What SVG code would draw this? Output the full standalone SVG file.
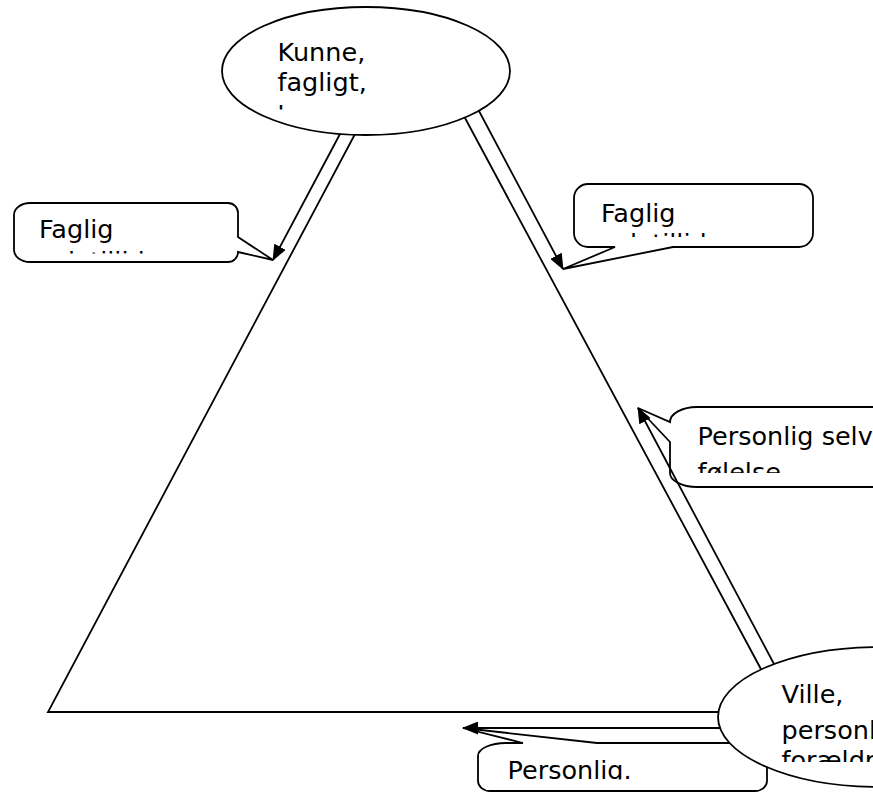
<svg xmlns="http://www.w3.org/2000/svg" width="873" height="793" viewBox="0 0 873 793">
<style>
.shape{fill:#fff;stroke:#000;stroke-width:1.8;stroke-linejoin:miter}
.line{fill:none;stroke:#000;stroke-width:1.8}
.txt{font-family:"DejaVu Sans","Verdana",sans-serif;font-size:25.5px;fill:#000}
</style>
<defs>
<marker id="arrow" markerUnits="userSpaceOnUse" viewBox="0 0 16 13" refX="15" refY="6.5" markerWidth="16" markerHeight="13" orient="auto">
<path d="M0,0 L16,6.5 L0,13 Z" fill="#000"/>
</marker>
<clipPath id="cTop"><rect x="270" y="30" width="200" height="79.5"/></clipPath>
<clipPath id="cLeft"><rect x="20" y="205" width="215" height="48.5"/></clipPath>
<clipPath id="cRight"><rect x="580" y="186" width="230" height="51"/></clipPath>
<clipPath id="cPS"><rect x="680" y="410" width="300" height="63"/></clipPath>
<clipPath id="cBot"><rect x="485" y="745" width="280" height="34.5"/></clipPath>
<clipPath id="cVille"><rect x="760" y="650" width="200" height="112"/></clipPath>
</defs>

<g id="triangle">
<polygon class="line" points="414,23 48,712 784,712"/>
</g>

<g id="callout-faglig-left">
<path class="shape" d="M30,203 H228 A10,10 0 0 1 238,213 V237 L273,260 L238,252 A10,10 0 0 1 228,262 H30 A16,12 0 0 1 14,250 V215 A16,12 0 0 1 30,203 Z"/>
<g clip-path="url(#cLeft)">
<text class="txt" x="39" y="238">Faglig</text>
<text class="txt" x="39" y="270">selvtillid</text>
</g>
</g>

<g id="callout-faglig-right">
<path class="shape" d="M588,184 H799 A14,14 0 0 1 813,198 V233 A14,14 0 0 1 799,247 H673 L563,269 L615,247 H588 A14,14 0 0 1 574,233 V198 A14,14 0 0 1 588,184 Z"/>
<g clip-path="url(#cRight)">
<text class="txt" x="601" y="222">Faglig</text>
<text class="txt" x="601" y="252">selvtillid</text>
</g>
</g>

<g id="callout-personlig-selv">
<path class="shape" d="M697,407 H900 V487 H697 A27,14 0 0 1 670,473 V442 L638,408 L670,422 A27,15 0 0 1 697,407 Z"/>
<g clip-path="url(#cPS)">
<text class="txt" x="697.5" y="445">Personlig selvværds-</text>
<text class="txt" x="697.5" y="481">følelse</text>
</g>
</g>

<g id="callout-personlig-bottom">
<path class="shape" d="M478,756 A28,13 0 0 1 506,743 H523 L463,728 L597,743 H753 A14,10 0 0 1 767,753 V781 A12,10 0 0 1 755,791 H490 A12,10 0 0 1 478,781 Z"/>
<g clip-path="url(#cBot)">
<text class="txt" x="507.5" y="779">Personlig.</text>
</g>
</g>

<g id="node-kunne">
<ellipse class="shape" cx="366" cy="71" rx="144" ry="64"/>
<g clip-path="url(#cTop)">
<text class="txt" x="277.5" y="61">Kunne,</text>
<text class="txt" x="277.5" y="91">fagligt,</text>
<text class="txt" x="277.5" y="124">kunnen</text>
</g>
</g>

<g id="node-ville">
<ellipse class="shape" cx="880" cy="717" rx="162" ry="70"/>
<g clip-path="url(#cVille)">
<text class="txt" x="781.5" y="703">Ville,</text>
<text class="txt" x="781.5" y="739">personligt,</text>
<text class="txt" x="781.5" y="769">forældre</text>
</g>
</g>

<g id="connectors">
<line class="line" x1="340" y1="134" x2="273" y2="260" marker-end="url(#arrow)"/>
<line class="line" x1="479" y1="111" x2="563" y2="269" marker-end="url(#arrow)"/>
<line class="line" x1="774" y1="664" x2="638" y2="408" marker-end="url(#arrow)"/>
<line class="line" x1="720" y1="728" x2="463" y2="728" marker-end="url(#arrow)"/>
</g>
</svg>
